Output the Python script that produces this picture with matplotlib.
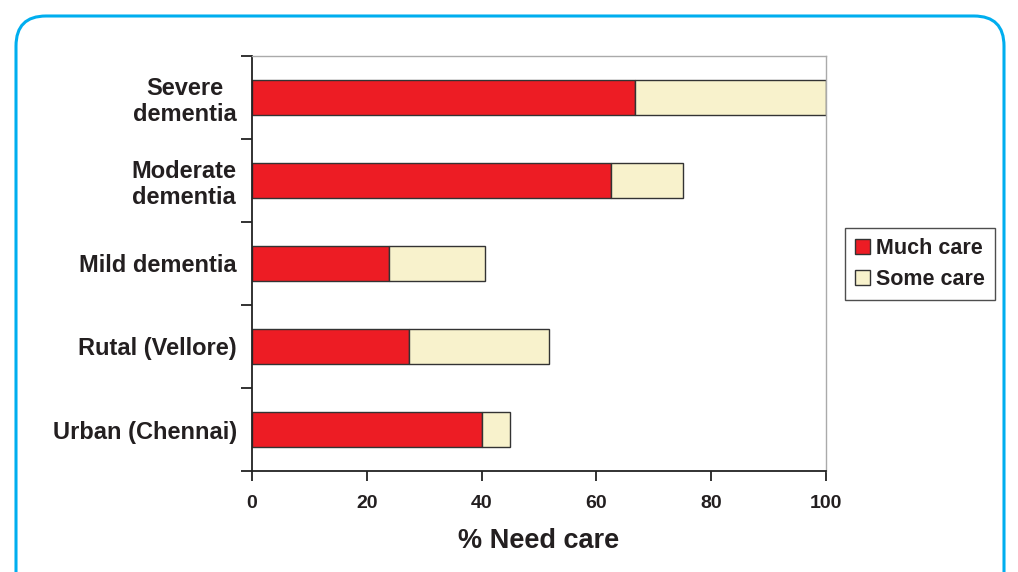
import matplotlib
matplotlib.use("Agg")
import matplotlib.pyplot as plt
from matplotlib.patches import FancyBboxPatch, Patch

categories = ["Urban (Chennai)", "Rutal (Vellore)", "Mild dementia", "Moderate\ndementia", "Severe\ndementia"]
much_care = [40, 27.3, 23.8, 62.5, 66.7]
some_care = [5, 24.5, 16.8, 12.5, 33.3]
xticks = [0, 20, 40, 60, 80, 100]

plt.rcParams['font.family'] = ['Liberation Sans', 'DejaVu Sans']
plt.rcParams['font.weight'] = 'bold'

fig = plt.figure(figsize=(10.18, 5.72), dpi=100)
ax = fig.add_axes([252/1018, 1-471/572, (826-252)/1018, (471-56)/572])

red = '#ED1C24'
cream = '#F8F2CC'
y = list(range(len(categories)))
ax.barh(y, much_care, height=0.41, color=red, edgecolor='#333333', linewidth=1.0, label='Much care')
ax.barh(y, some_care, left=much_care, height=0.41, color=cream, edgecolor='#333333', linewidth=1.0, label='Some care')

ax.set_xlim(0, 100)
ax.set_ylim(-0.5, len(categories) - 0.5)
ax.set_xticks(xticks)
ax.set_xticklabels([str(t) for t in xticks], fontsize=14, fontweight='bold', color='#231F20')
ax.set_yticks([i - 0.5 for i in range(len(categories) + 1)])
ax.set_yticklabels([])
ax.set_yticks(y, minor=True)
ax.set_yticklabels(categories, minor=True, fontsize=17, fontweight='bold', color='#231F20')
for lab in ax.get_yticklabels(minor=True):
    lab.set_multialignment('center')
    lab.set_linespacing(1.15)
ax.tick_params(axis='y', which='minor', length=0, pad=16 - 5)
ax.tick_params(axis='y', which='major', length=8, width=1.3, direction='out', color='#222222')
ax.tick_params(axis='x', length=7, width=1.3, direction='out', color='#222222', pad=10)

for s in ['left', 'bottom']:
    ax.spines[s].set_color('#222222')
    ax.spines[s].set_linewidth(1.3)
for s in ['top', 'right']:
    ax.spines[s].set_color('#AAAAAA')
    ax.spines[s].set_linewidth(1.0)

ax.set_xlabel('% Need care', fontsize=19.5, fontweight='bold', labelpad=12, color='#231F20')

handles = [Patch(facecolor=red, edgecolor='#333333', label='Much care'),
           Patch(facecolor=cream, edgecolor='#333333', label='Some care')]
leg = fig.legend(handles=handles, loc='center left', bbox_to_anchor=(845/1018, 1-264/572),
                 frameon=True, fancybox=False, edgecolor='#222222', fontsize=15.5,
                 handlelength=0.7, handleheight=0.7, handletextpad=0.3, borderpad=0.45,
                 borderaxespad=0, labelspacing=0.45)
leg.get_frame().set_linewidth(1.0)
for t in leg.get_texts():
    t.set_fontweight('bold')
    t.set_color('#231F20')

border = FancyBboxPatch((0.16, -0.5), 10.04 - 0.16, 5.56 + 0.5,
                        boxstyle="round,pad=0,rounding_size=0.3",
                        transform=fig.dpi_scale_trans, facecolor='none',
                        edgecolor='#00AEEF', linewidth=2.2, clip_on=False)
fig.patches.append(border)

fig.savefig('out.png', dpi=100)
